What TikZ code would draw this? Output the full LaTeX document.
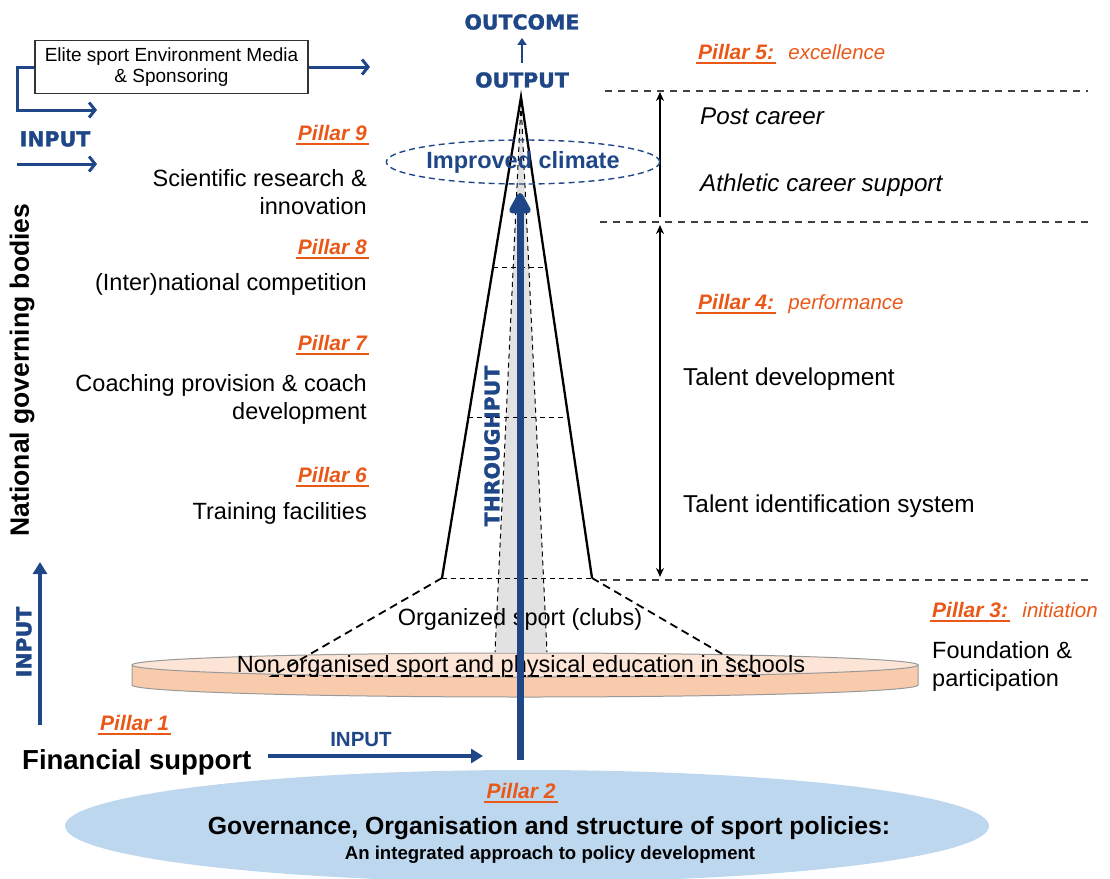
\documentclass[tikz,border=0pt]{standalone}
\usepackage{fontspec}
\setmainfont{Liberation Sans}
\newfontfamily\blackfont[BoldFeatures={FakeBold=1.6}]{DejaVu Sans}
\usetikzlibrary{arrows.meta,positioning,shapes.geometric,calc}

\definecolor{navy}{RGB}{31,71,136}
\definecolor{pilorange}{RGB}{234,88,24}
\definecolor{peachtop}{RGB}{252,229,214}
\definecolor{peachside}{RGB}{248,203,173}
\definecolor{skyblue}{RGB}{189,215,238}
\definecolor{trunkgray}{RGB}{226,226,226}

\newcommand{\sz}[2]{\fontsize{#1}{#2}\selectfont}

\begin{document}
\begin{tikzpicture}[x=1pt, y=-1pt, >=Stealth,
	txt/.style={font=\sz{23.5}{28}, inner sep=0pt},
	rtxt/.style={font=\sz{24.4}{28}, inner sep=0pt},
	itxt/.style={font=\sz{24.2}{28}\itshape, inner sep=0pt},
	pillar/.style={font=\sz{21}{25}\bfseries\itshape, text=pilorange, inner sep=0pt,
		append after command={([yshift=-4pt,xshift=-2pt]\tikzlastnode.base west) edge[pilorange, line width=2.6pt] ([yshift=-4pt,xshift=2pt]\tikzlastnode.base east)}},
	stage/.style={font=\sz{20.5}{25}\itshape, text=pilorange, inner sep=0pt},
	heavy/.style={font=\blackfont\bfseries\sz{20.5}{25}, text=navy, inner sep=0pt},
	flow/.style={navy, line width=3pt, -{Straight Barb[length=6pt, width=15pt]}},
	push/.style={navy, line width=4pt, -{Triangle[length=12pt, width=14pt]}},
	level/.style={black!75, line width=1.2pt, dash pattern=on 7pt off 6pt},
	fine/.style={black, line width=1pt, dash pattern=on 5pt off 4pt},
	rim/.style={black, line width=1.8pt, dash pattern=on 8pt off 5pt},
	span/.style={black, line width=2pt}]
\useasboundingbox (0,0) rectangle (1110,878);

\node[ellipse, fill=skyblue, minimum width=924pt, minimum height=112pt, inner sep=0pt] (G) at (527,826) {};

\coordinate (apex) at (521,97);
\coordinate (L) at (442,578);
\coordinate (R) at (592,578);
\coordinate (tip) at (521,102);
\coordinate (gL) at (495,652);
\coordinate (gR) at (547,652);
\coordinate (tL) at (272,676);
\coordinate (tR) at (760,676);

\fill[trunkgray] (tip) -- (gL) -- (gR) -- cycle;
\draw[fine] (tip) -- (gL);
\draw[fine] (tip) -- (gR);

\filldraw[fill=peachside, draw=black!40, line width=1pt] (132,665) -- (132,685) arc[start angle=180, end angle=360, x radius=393pt, y radius=12pt] -- (918,665) -- cycle;
\filldraw[fill=peachtop, draw=black!40, line width=1pt] (525,665) ellipse [x radius=393pt, y radius=12pt];

\draw[line width=2.3pt] (L) -- (apex) -- (R);
\draw[fine] ($(apex)!0.3555!(L)$) -- ($(apex)!0.3555!(R)$);
\draw[fine] ($(apex)!0.667!(L)$) -- ($(apex)!0.667!(R)$);
\draw[fine] (L) -- (R);
\draw[rim] (L) -- (tL) -- (tR) -- (R);

\draw[level] (605,91) -- (1088,91);
\draw[level] (600,222) -- (1088,222);
\draw[level] (600,580) -- (1088,580);

\coordinate (s1) at (660,217);
\coordinate (s2) at (660,92);
\coordinate (s3) at (660,225);
\coordinate (s4) at (660,577);
\draw[span, -{Stealth[length=9pt, width=8pt]}] (s1) -- (s2);
\draw[span, {Stealth[length=9pt, width=8pt]}-{Stealth[length=9pt, width=8pt]}] (s3) -- (s4);

\node[ellipse, draw=navy, line width=1.4pt, dash pattern=on 6pt off 4pt, minimum width=244pt, minimum height=44pt, inner sep=0pt, font=\sz{23.5}{28}\bfseries, text=navy] (clim) at (523,162) {Improved climate};

\node[heavy] (out) at (522,80) {OUTPUT};
\node[heavy] (oc) at (522,22) {OUTCOME};
\draw[navy, line width=2.5pt, -{Triangle[length=7pt, width=9pt]}, shorten <=9pt, shorten >=8pt] (out) -- (oc);

\node[draw=black!80, line width=1.3pt, font=\sz{19}{21}, align=center, minimum width=273pt, minimum height=53pt, inner sep=0pt] (env) at (171.5,67) {Elite sport Environment Media\\\& Sponsoring};
\coordinate (envout) at (370,67);
\coordinate (bend) at (17,67);
\coordinate (in1) at (97,110);
\coordinate (in2a) at (17,164);
\coordinate (in2b) at (97,164);
\draw[flow] (env.east) -- (envout);
\draw[flow] (env.west) -- (bend) |- (in1);
\node[heavy] (in) at (55,139) {INPUT};
\draw[flow] (in2a) -- (in2b);

\node[pillar, anchor=base east] (P9) at (367,140) {Pillar 9};
\node[txt, anchor=base east] (P9a) at (367,186) {Scientific research \&};
\node[txt, anchor=base east] (P9b) at (367,214) {innovation};
\node[pillar, anchor=base east] (P8) at (367,254) {Pillar 8};
\node[txt, anchor=base east] (P8a) at (367,290) {(Inter)national competition};
\node[pillar, anchor=base east] (P7) at (367,350) {Pillar 7};
\node[txt, anchor=base east] (P7a) at (367,391) {Coaching provision \& coach};
\node[txt, anchor=base east] (P7b) at (367,419) {development};
\node[pillar, anchor=base east] (P6) at (367,482) {Pillar 6};
\node[txt, anchor=base east] (P6a) at (367,519) {Training facilities};

\node[pillar, anchor=base west] (P5) at (698,59) {Pillar 5:};
\node[stage, base right=14pt of P5] (P5s) {excellence};
\node[itxt, anchor=base west] (P5a) at (700,124) {Post career};
\node[itxt, anchor=base west] (P5b) at (700,191) {Athletic career support};
\node[pillar, anchor=base west] (P4) at (698,309) {Pillar 4:};
\node[stage, base right=14pt of P4] (P4s) {performance};
\node[rtxt, anchor=base west] (P4a) at (683,385) {Talent development};
\node[rtxt, anchor=base west] (P4b) at (683,512) {Talent identification system};
\node[pillar, anchor=base west] (P3) at (932,617) {Pillar 3:};
\node[stage, base right=14pt of P3] (P3s) {initiation};
\node[txt, anchor=base west] (P3a) at (932,658) {Foundation \&};
\node[txt, anchor=base west] (P3b) at (932,686) {participation};

\node[txt] (clubs) at (520,619) {Organized sport (clubs)};
\node[txt, anchor=base] (school) at (521,672) {Non organised sport and physical education in schools};

\node[font=\sz{26.5}{30}\bfseries, rotate=90, inner sep=0pt] (ngb) at (22,370) {National governing bodies};
\node[heavy, rotate=90] (inv) at (24,642) {INPUT};
\coordinate (v1) at (40,725);
\coordinate (v2) at (40,562);
\draw[push] (v1) -- (v2);

\node[pillar, anchor=base west] (P1) at (100,730) {Pillar 1};
\node[font=\sz{27.5}{30}\bfseries, anchor=base west, inner sep=0pt] (fin) at (22,769) {Financial support};
\node[font=\sz{20.5}{24}\bfseries, text=navy, inner sep=0pt] (finin) at (361,740) {INPUT};
\coordinate (finto) at (483,756);
\draw[push, shorten <=16pt] (fin.east |- finto) -- (finto);

\node[pillar, anchor=base] (P2) at (521,798) {Pillar 2};
\node[font=\sz{24.8}{28}\bfseries, anchor=base, inner sep=0pt] (gov) at (549,834) {Governance, Organisation and structure of sport policies:};
\node[font=\sz{18.6}{22}\bfseries, anchor=base, inner sep=0pt] (gova) at (550,859) {An integrated approach to policy development};

\node[heavy, rotate=90] (thru) at (492,446) {THROUGHPUT};
\coordinate (th0) at (520,760);
\coordinate (th1) at (520,193);
\draw[navy, line width=7pt, -{Triangle[length=24pt, width=24pt, round]}] (th0) -- (th1);
\end{tikzpicture}
\end{document}
